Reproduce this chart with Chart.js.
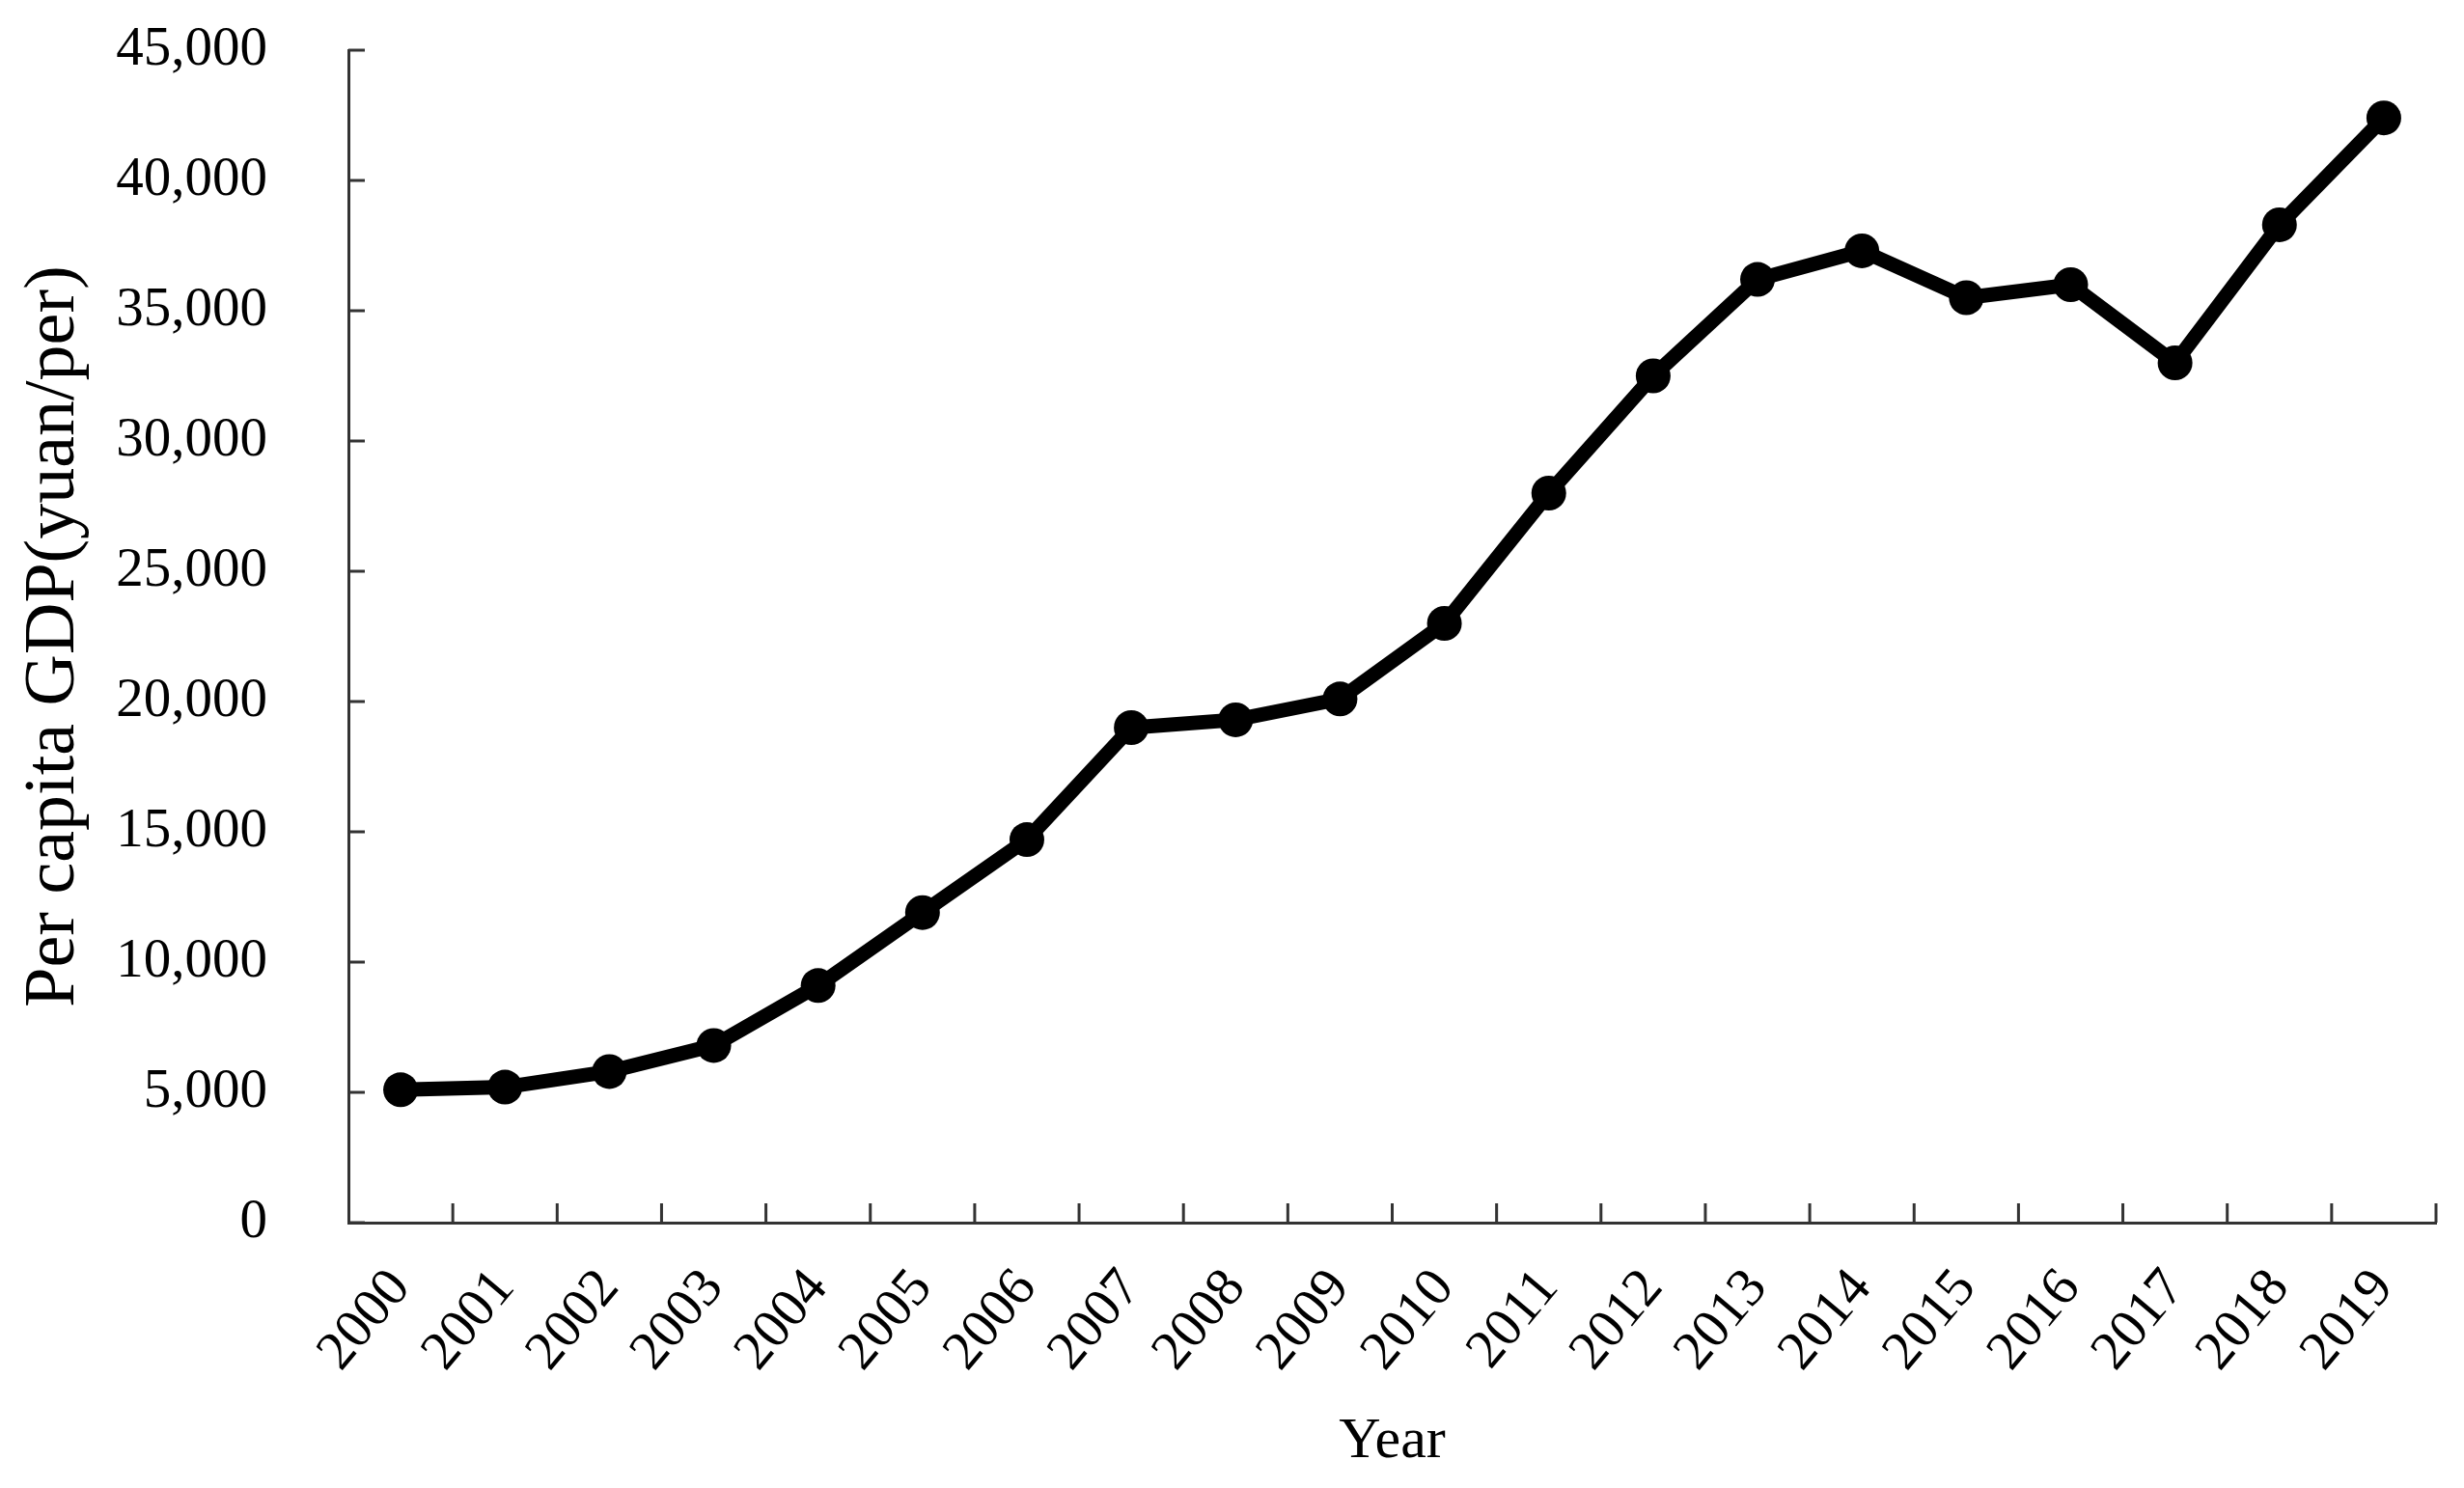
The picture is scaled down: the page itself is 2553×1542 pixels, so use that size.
<!DOCTYPE html>
<html lang="en">
<head>
  <meta charset="UTF-8" />
  <title>Per capita GDP</title>
  <style>
    body {
      margin: 0;
      padding: 0;
      background-color: #fff;
    }
    canvas {
      display: block;
    }
  </style>
</head>
<body>
  <canvas id="chart" width="2553" height="1542"></canvas>

  <script src="https://cdn.jsdelivr.net/npm/chart.js"></script>
  <script>
    const years = ["2000", "2001", "2002", "2003", "2004", "2005", "2006", "2007", "2008", "2009",
                   "2010", "2011", "2012", "2013", "2014", "2015", "2016", "2017", "2018", "2019"];
    const gdpPerCapita = [5100, 5200, 5800, 6800, 9100, 11900, 14700, 19000, 19300, 20100,
                          23000, 28000, 32500, 36200, 37300, 35500, 36000, 33000, 38300, 42400];
    const yMin = 0;
    const yMax = 45000;
    const yStep = 5000;

    const axisColor = "#333";
    const font = "'Liberation Serif', 'DejaVu Serif', serif";

    // tick marks pointing into the plot, like the original figure
    const innerTicks = {
      id: "innerTicks",
      afterDraw(chart) {
        const { ctx, chartArea, scales: { x, y } } = chart;
        ctx.save();
        ctx.strokeStyle = axisColor;
        ctx.lineWidth = 3;
        ctx.beginPath();
        y.ticks.forEach((t, i) => {
          const py = y.getPixelForTick(i);
          ctx.moveTo(chartArea.left, py);
          ctx.lineTo(chartArea.left + 17, py);
        });
        const n = years.length;
        for (let i = 1; i <= n; i++) {
          const px = x.left + i * (x.width / n);
          ctx.moveTo(px, chartArea.bottom);
          ctx.lineTo(px, chartArea.bottom - 20);
        }
        ctx.stroke();
        ctx.restore();
      }
    };

    new Chart(document.getElementById("chart"), {
      type: "line",
      data: {
        labels: years,
        datasets: [{
          label: "Per capita GDP",
          data: gdpPerCapita,
          borderColor: "#000",
          backgroundColor: "#000",
          borderWidth: 15,
          pointRadius: 18,
          pointBackgroundColor: "#000",
          pointBorderWidth: 0,
          tension: 0
        }]
      },
      options: {
        responsive: false,
        animation: false,
        layout: { padding: { top: 52, right: 29, bottom: 0, left: 0 } },
        plugins: {
          legend: { display: false },
          tooltip: { enabled: false }
        },
        scales: {
          x: {
            offset: true,
            grid: { display: false, offset: true },
            border: { display: true, color: axisColor, width: 3 },
            ticks: {
              color: "#000",
              font: { family: font, size: 57 },
              maxRotation: 50,
              minRotation: 50,
              padding: 28
            },
            title: {
              display: true,
              text: "Year",
              color: "#000",
              font: { family: font, size: 60 },
              padding: { top: 0, bottom: 12 }
            },
            afterFit(scale) { scale.height = 275; }
          },
          y: {
            min: yMin,
            max: yMax,
            grid: { display: false, drawTicks: false },
            border: { display: true, color: axisColor, width: 3 },
            ticks: {
              stepSize: yStep,
              color: "#000",
              font: { family: font, size: 57 },
              padding: 84,
              callback: v => v.toLocaleString("en-US")
            },
            title: {
              display: true,
              text: "Per capita GDP(yuan/per)",
              color: "#000",
              font: { family: font, size: 74 },
              padding: { top: 12, bottom: 0 }
            },
            afterFit(scale) {
              scale.width = 361;
              // the big label padding should not push the plot down
              scale.paddingTop = 0;
            }
          }
        }
      },
      plugins: [innerTicks]
    });
  </script>
</body>
</html>
